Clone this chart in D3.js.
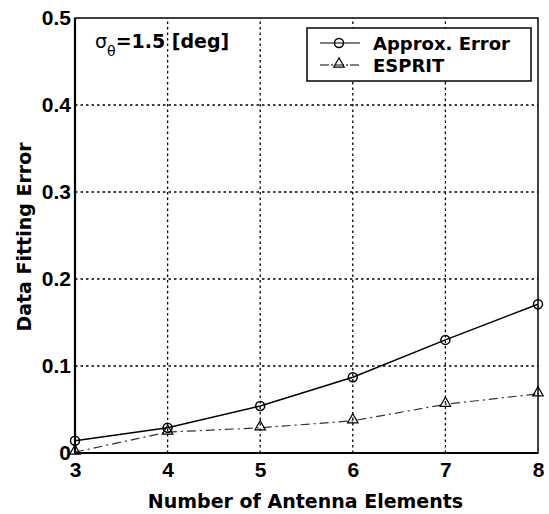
<!DOCTYPE html>
<html lang="en">
<head>
<meta charset="UTF-8">
<title>Data Fitting Error</title>
<script src="https://d3js.org/d3.v7.min.js"></script>
<style>
  body { margin: 0; background: #fff; }
  text { font-family: "DejaVu Sans", sans-serif; font-weight: bold; fill: #000; }
  .tick text { font-family: "Liberation Sans", Arial, sans-serif; font-size: 21px; }
  .grid line { stroke: #000; stroke-width: 1.3; stroke-dasharray: 2.5 3; }
</style>
</head>
<body>
<div id="chart"></div>
<script>
// data
const elements = [3, 4, 5, 6, 7, 8];
const approxError = [0.014, 0.029, 0.054, 0.087, 0.130, 0.171];
const esprit = [0.001, 0.024, 0.029, 0.037, 0.056, 0.068];
const yTicks = [0, 0.1, 0.2, 0.3, 0.4, 0.5];
const seriesNames = ["Approx. Error", "ESPRIT"];

const W = 549, H = 514;
const margin = {top: 18, right: 11, bottom: 61, left: 75};

const svg = d3.select("#chart").append("svg")
    .attr("width", W).attr("height", H);

const x = d3.scaleLinear().domain([3, 8]).range([margin.left, W - margin.right]);
const y = d3.scaleLinear().domain([0, 0.5]).range([H - margin.bottom, margin.top]);

// grid
const grid = svg.append("g").attr("class", "grid");
grid.selectAll(".gx").data(elements.slice(1, -1)).enter().append("line")
    .attr("x1", d => x(d)).attr("x2", d => x(d))
    .attr("y1", y(0)).attr("y2", y(0.5));
grid.selectAll(".gy").data(yTicks.slice(1, -1)).enter().append("line")
    .attr("x1", x(3)).attr("x2", x(8))
    .attr("y1", d => y(d)).attr("y2", d => y(d));

// frame
svg.append("rect")
    .attr("x", x(3)).attr("y", y(0.5))
    .attr("width", x(8) - x(3)).attr("height", y(0) - y(0.5))
    .attr("fill", "none").attr("stroke", "#000").attr("stroke-width", 1.5);
svg.append("line").attr("x1", x(3)).attr("x2", x(8)).attr("y1", y(0)).attr("y2", y(0))
    .attr("stroke", "#000").attr("stroke-width", 2.2);
svg.append("line").attr("x1", x(3)).attr("x2", x(3)).attr("y1", y(0)).attr("y2", y(0.5))
    .attr("stroke", "#000").attr("stroke-width", 2.2);

// axes
const xAxis = svg.append("g")
    .attr("transform", `translate(0,${y(0)})`)
    .call(d3.axisBottom(x).tickValues(elements).tickSize(0).tickPadding(9).tickFormat(d3.format("d")));
const yAxis = svg.append("g")
    .attr("transform", `translate(${x(3)},0)`)
    .call(d3.axisLeft(y).tickValues(yTicks).tickSize(0).tickPadding(4).tickFormat(d => d === 0 ? "0" : d3.format(".1f")(d)));
[xAxis, yAxis].forEach(a => {
    a.select(".domain").remove();
    a.attr("font-size", null).attr("font-family", null);
});

// axis titles
svg.append("text")
    .attr("x", (x(3) + x(8)) / 2 - 1).attr("y", 508)
    .attr("text-anchor", "middle").style("font-size", "19px")
    .text("Number of Antenna Elements");
svg.append("text")
    .attr("transform", `translate(31,${237}) rotate(-90)`)
    .attr("text-anchor", "middle").style("font-size", "19px")
    .text("Data Fitting Error");

// annotation
const ann = svg.append("text").attr("x", 95).attr("y", 48).style("font-size", "19px");
ann.append("tspan").text("σ").style("font-weight", "normal");
ann.append("tspan").attr("dy", 8).style("font-size", "14px").style("font-weight", "normal").text("θ");
ann.append("tspan").attr("dy", -8).text("=1.5 [deg]");

// series
const line = d3.line().x((d, i) => x(elements[i])).y(d => y(d));
svg.append("path").datum(approxError).attr("d", line)
    .attr("fill", "none").attr("stroke", "#000").attr("stroke-width", 1.5);
svg.append("path").datum(esprit).attr("d", line)
    .attr("fill", "none").attr("stroke", "#333").attr("stroke-width", 1.2)
    .attr("stroke-dasharray", "9 4 2 4");

const tri = d3.symbol().type(d3.symbolTriangle).size(48);
svg.selectAll(".c").data(approxError).enter().append("circle")
    .attr("cx", (d, i) => x(elements[i])).attr("cy", d => y(d)).attr("r", 4.5)
    .attr("fill", "none").attr("stroke", "#000").attr("stroke-width", 1.5);
svg.selectAll(".t").data(esprit).enter().append("path")
    .attr("d", tri)
    .attr("transform", (d, i) => `translate(${x(elements[i])},${y(d) - 1})`)
    .attr("fill", "none").attr("stroke", "#000").attr("stroke-width", 1.2);

// legend
const lg = svg.append("g").attr("transform", "translate(307,28)");
lg.append("rect").attr("width", 224).attr("height", 53)
    .attr("fill", "#fff").attr("stroke", "#000").attr("stroke-width", 1.5);
seriesNames.forEach((name, i) => {
    const yy = 15 + i * 22;
    lg.append("line").attr("x1", 13).attr("x2", 53).attr("y1", yy).attr("y2", yy)
        .attr("stroke", "#000").attr("stroke-width", 1.2)
        .attr("stroke-dasharray", i === 0 ? null : "9 2 2 2");
    if (i === 0) {
        lg.append("circle").attr("cx", 32).attr("cy", yy).attr("r", 4.5)
            .attr("fill", "none").attr("stroke", "#000").attr("stroke-width", 1.5);
    } else {
        lg.append("path").attr("d", tri).attr("transform", `translate(32,${yy - 1})`)
            .attr("fill", "none").attr("stroke", "#000").attr("stroke-width", 1.2);
    }
    lg.append("text").attr("x", 66).attr("y", yy + 7).style("font-size", "18px").text(name);
});
</script>
</body>
</html>
